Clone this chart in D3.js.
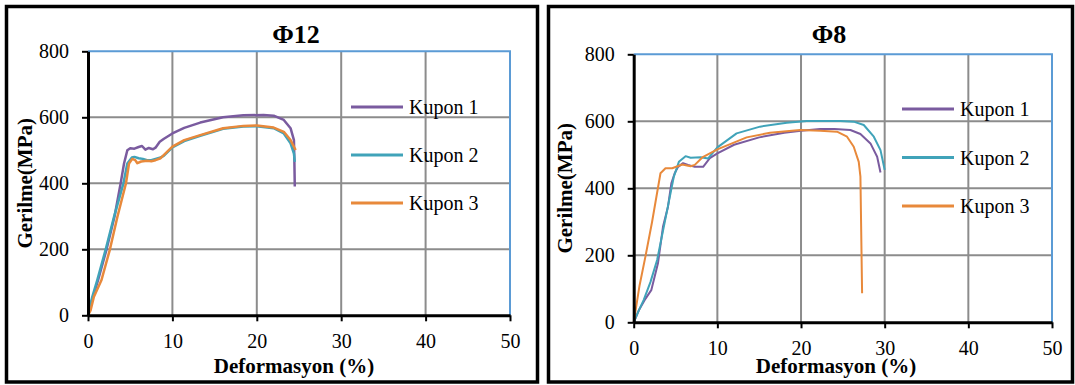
<!DOCTYPE html>
<html>
<head>
<meta charset="utf-8">
<script src="https://cdn.jsdelivr.net/npm/d3@7"></script>
<style>
  body { margin: 0; background: #fff; }
  svg { display: block; font-family: "Liberation Serif", "Times New Roman", serif; }
</style>
</head>
<body>
<div id="chart"></div>
<script>
// tick labels and series names
let xTicks = [0, 10, 20, 30, 40, 50];
let yTicks = [0, 200, 400, 600, 800];
let seriesNames = ["Kupon 1", "Kupon 2", "Kupon 3"];
let colors = ["#7a5b9f", "#40a3b9", "#e8893b"];

// Φ12 specimens (deformation %, stress MPa)
let p12k1x = [0, 0.4, 1.2, 2.2, 3.15, 3.87, 4.27, 4.66, 5.0, 5.5, 6.0, 6.4, 6.8, 7.2, 7.7, 8.0, 8.5, 9.0, 10, 11.4, 13.3, 16.0, 18.4, 20.8, 22, 23.2, 24.0, 24.4, 24.45, 24.5];
let p12k1y = [0, 40, 107, 200, 300, 400, 460, 500, 506, 505, 510, 513, 502, 507, 503, 508, 526, 535, 551, 568, 584, 600, 606, 607, 605, 592, 567, 531, 471, 390];
let p12k2x = [0, 0.5, 1.1, 2.1, 3.1, 4.2, 4.66, 5.2, 5.5, 6.0, 6.5, 7.0, 7.5, 8.0, 8.6, 9.0, 10, 11.4, 13.3, 16, 18.4, 20, 22, 23.2, 24.0, 24.4, 24.5];
let p12k2y = [0, 55, 107, 200, 300, 400, 460, 478, 480, 476, 474, 470, 470, 474, 478, 484, 509, 528, 544, 565, 572, 573, 567, 551, 521, 490, 465];
let p12k3x = [0, 0.3, 0.7, 1.6, 2.6, 3.5, 4.5, 4.86, 5.25, 5.6, 5.85, 6.3, 7.0, 7.5, 8.0, 8.6, 9.0, 10, 11.4, 13.3, 16, 18.4, 20, 22, 23.2, 24.0, 24.6];
let p12k3y = [0, 15, 56, 107, 200, 300, 400, 460, 474, 470, 461, 466, 468, 467, 470, 476, 486, 511, 531, 546, 567, 574, 575, 569, 556, 531, 501];

// Φ8 specimens
let p8k1x = [0, 0.6, 1.4, 2.1, 2.9, 3.5, 4.1, 4.5, 4.9, 5.3, 5.9, 6.5, 7.3, 8.3, 9.1, 10, 12, 15, 18, 20, 22.3, 24, 25.9, 27.1, 28.3, 29.1, 29.5];
let p8k1y = [0, 35, 70, 96, 176, 285, 345, 415, 445, 464, 475, 470, 464, 464, 490, 504, 530, 552, 566, 572, 577, 577, 574, 562, 534, 494, 447];
let p8k2x = [0, 0.6, 1.2, 2.0, 2.8, 4.0, 4.8, 5.4, 6.2, 6.8, 8.0, 8.9, 10, 12.3, 15.1, 18.3, 20.7, 24.7, 26.3, 27.5, 28.7, 29.5, 30.0];
let p8k2y = [0, 35, 67, 120, 186, 335, 435, 479, 496, 491, 493, 489, 522, 564, 584, 596, 601, 601, 599, 589, 554, 514, 455];
let p8k3x = [0, 0.7, 1.4, 2.2, 3.2, 3.8, 4.6, 5.8, 6.8, 7.3, 8.2, 10, 13.5, 16.3, 19.9, 22.3, 24.3, 25.5, 26.3, 26.9, 27.1, 27.3];
let p8k3y = [0, 110, 196, 300, 445, 460, 460, 471, 466, 470, 492, 516, 552, 566, 574, 572, 569, 554, 524, 479, 435, 87];

let w = 1075;
let h = 385;

let svg = d3.select("#chart")
            .append("svg")
            .attr("width", w)
            .attr("height", h);

let zip = (xs, ys) => xs.map((x, i) => [x, ys[i]]);

function drawChart(cfg) {
  let g = svg.append("g");

  // panel frame
  g.append("rect")
   .attr("x", cfg.box[0])
   .attr("y", cfg.box[1])
   .attr("width", cfg.box[2])
   .attr("height", cfg.box[3])
   .attr("fill", "#fff")
   .attr("stroke", "#000")
   .attr("stroke-width", 3.5);

  let xScale = d3.scaleLinear([0, 50], [cfg.left, cfg.right]);
  let yScale = d3.scaleLinear([0, 800], [cfg.bottom, cfg.top]);

  // grid
  g.selectAll(".vgrid")
   .data(xTicks.slice(1, -1))
   .enter()
   .append("line")
   .attr("x1", (d) => xScale(d))
   .attr("x2", (d) => xScale(d))
   .attr("y1", cfg.top)
   .attr("y2", cfg.bottom)
   .attr("stroke", "#8c8c8c")
   .attr("stroke-width", 2);

  g.selectAll(".hgrid")
   .data(yTicks.slice(1, -1))
   .enter()
   .append("line")
   .attr("x1", cfg.left)
   .attr("x2", cfg.right)
   .attr("y1", (d) => yScale(d))
   .attr("y2", (d) => yScale(d))
   .attr("stroke", "#8c8c8c")
   .attr("stroke-width", 2);

  // blue plot border top and right
  g.append("path")
   .attr("d", `M${cfg.left},${yScale(800)}H${xScale(50)}V${yScale(0)}`)
   .attr("fill", "none")
   .attr("stroke", "#5b9bd5")
   .attr("stroke-width", 2);

  let line = d3.line()
               .x((d) => xScale(d[0]))
               .y((d) => yScale(d[1]));

  g.selectAll(".curve")
   .data(cfg.series)
   .enter()
   .append("path")
   .attr("d", (d) => line(d))
   .attr("fill", "none")
   .attr("stroke", (d, i) => colors[i])
   .attr("stroke-width", cfg.lw)
   .attr("stroke-linejoin", "round");

  // axes
  let xAxis = d3.axisBottom(xScale).tickValues(xTicks).tickSizeInner(6).tickSizeOuter(0).tickPadding(13);
  let yAxis = d3.axisLeft(yScale).tickValues(yTicks).tickSizeInner(6).tickSizeOuter(0).tickPadding(13);

  let ya = g.append("g")
            .attr("transform", `translate(${cfg.left},0)`)
            .call(yAxis);
  let xa = g.append("g")
            .attr("transform", `translate(0,${cfg.bottom})`)
            .call(xAxis);

  [xa, ya].forEach((a) => {
    a.select(".domain").attr("stroke", "#000").attr("stroke-width", 3);
    a.selectAll(".tick line").attr("stroke", "#000").attr("stroke-width", 2);
    a.selectAll(".tick text")
     .attr("fill", "#000")
     .style("font-family", "'Liberation Serif', 'Times New Roman', serif")
     .style("font-size", "20px");
  });

  // titles
  g.append("text")
   .attr("x", cfg.titleX)
   .attr("y", 43)
   .attr("text-anchor", "middle")
   .style("font-size", "26px")
   .style("font-weight", "bold")
   .text(cfg.title);

  g.append("text")
   .attr("x", cfg.xLabelX)
   .attr("y", 373)
   .attr("text-anchor", "middle")
   .style("font-size", "21px")
   .style("font-weight", "bold")
   .text("Deformasyon (%)");

  g.append("text")
   .attr("transform", `translate(${cfg.yLabelX},${(cfg.top + cfg.bottom) / 2}) rotate(-90)`)
   .attr("text-anchor", "middle")
   .style("font-size", "21px")
   .style("font-weight", "bold")
   .text("Gerilme(MPa)");

  // legend
  let legend = g.append("g");
  seriesNames.forEach((name, i) => {
    let ly = cfg.legendY + i * cfg.legendStep;
    legend.append("line")
          .attr("x1", cfg.legendX)
          .attr("x2", cfg.legendX + 52)
          .attr("y1", ly)
          .attr("y2", ly)
          .attr("stroke", colors[i])
          .attr("stroke-width", 3);
    legend.append("text")
          .attr("x", cfg.legendX + 58)
          .attr("y", ly + 7)
          .style("font-size", "20px")
          .text(name);
  });
}

drawChart({
  box: [6.5, 6.5, 531, 375.5],
  left: 88, right: 510, top: 51.3, bottom: 315.3,
  title: "Φ12", titleX: 296, xLabelX: 294, yLabelX: 32,
  legendX: 351, legendY: 107, legendStep: 48, lw: 2.5,
  series: [zip(p12k1x, p12k1y), zip(p12k2x, p12k2y), zip(p12k3x, p12k3y)]
});

drawChart({
  box: [548.5, 6.5, 524, 375.5],
  left: 633.7, right: 1052, top: 54.3, bottom: 322.3,
  title: "Φ8", titleX: 829, xLabelX: 836, yLabelX: 572,
  legendX: 902, legendY: 109, legendStep: 48.5, lw: 2,
  series: [zip(p8k1x, p8k1y), zip(p8k2x, p8k2y), zip(p8k3x, p8k3y)]
});
</script>
</body>
</html>
